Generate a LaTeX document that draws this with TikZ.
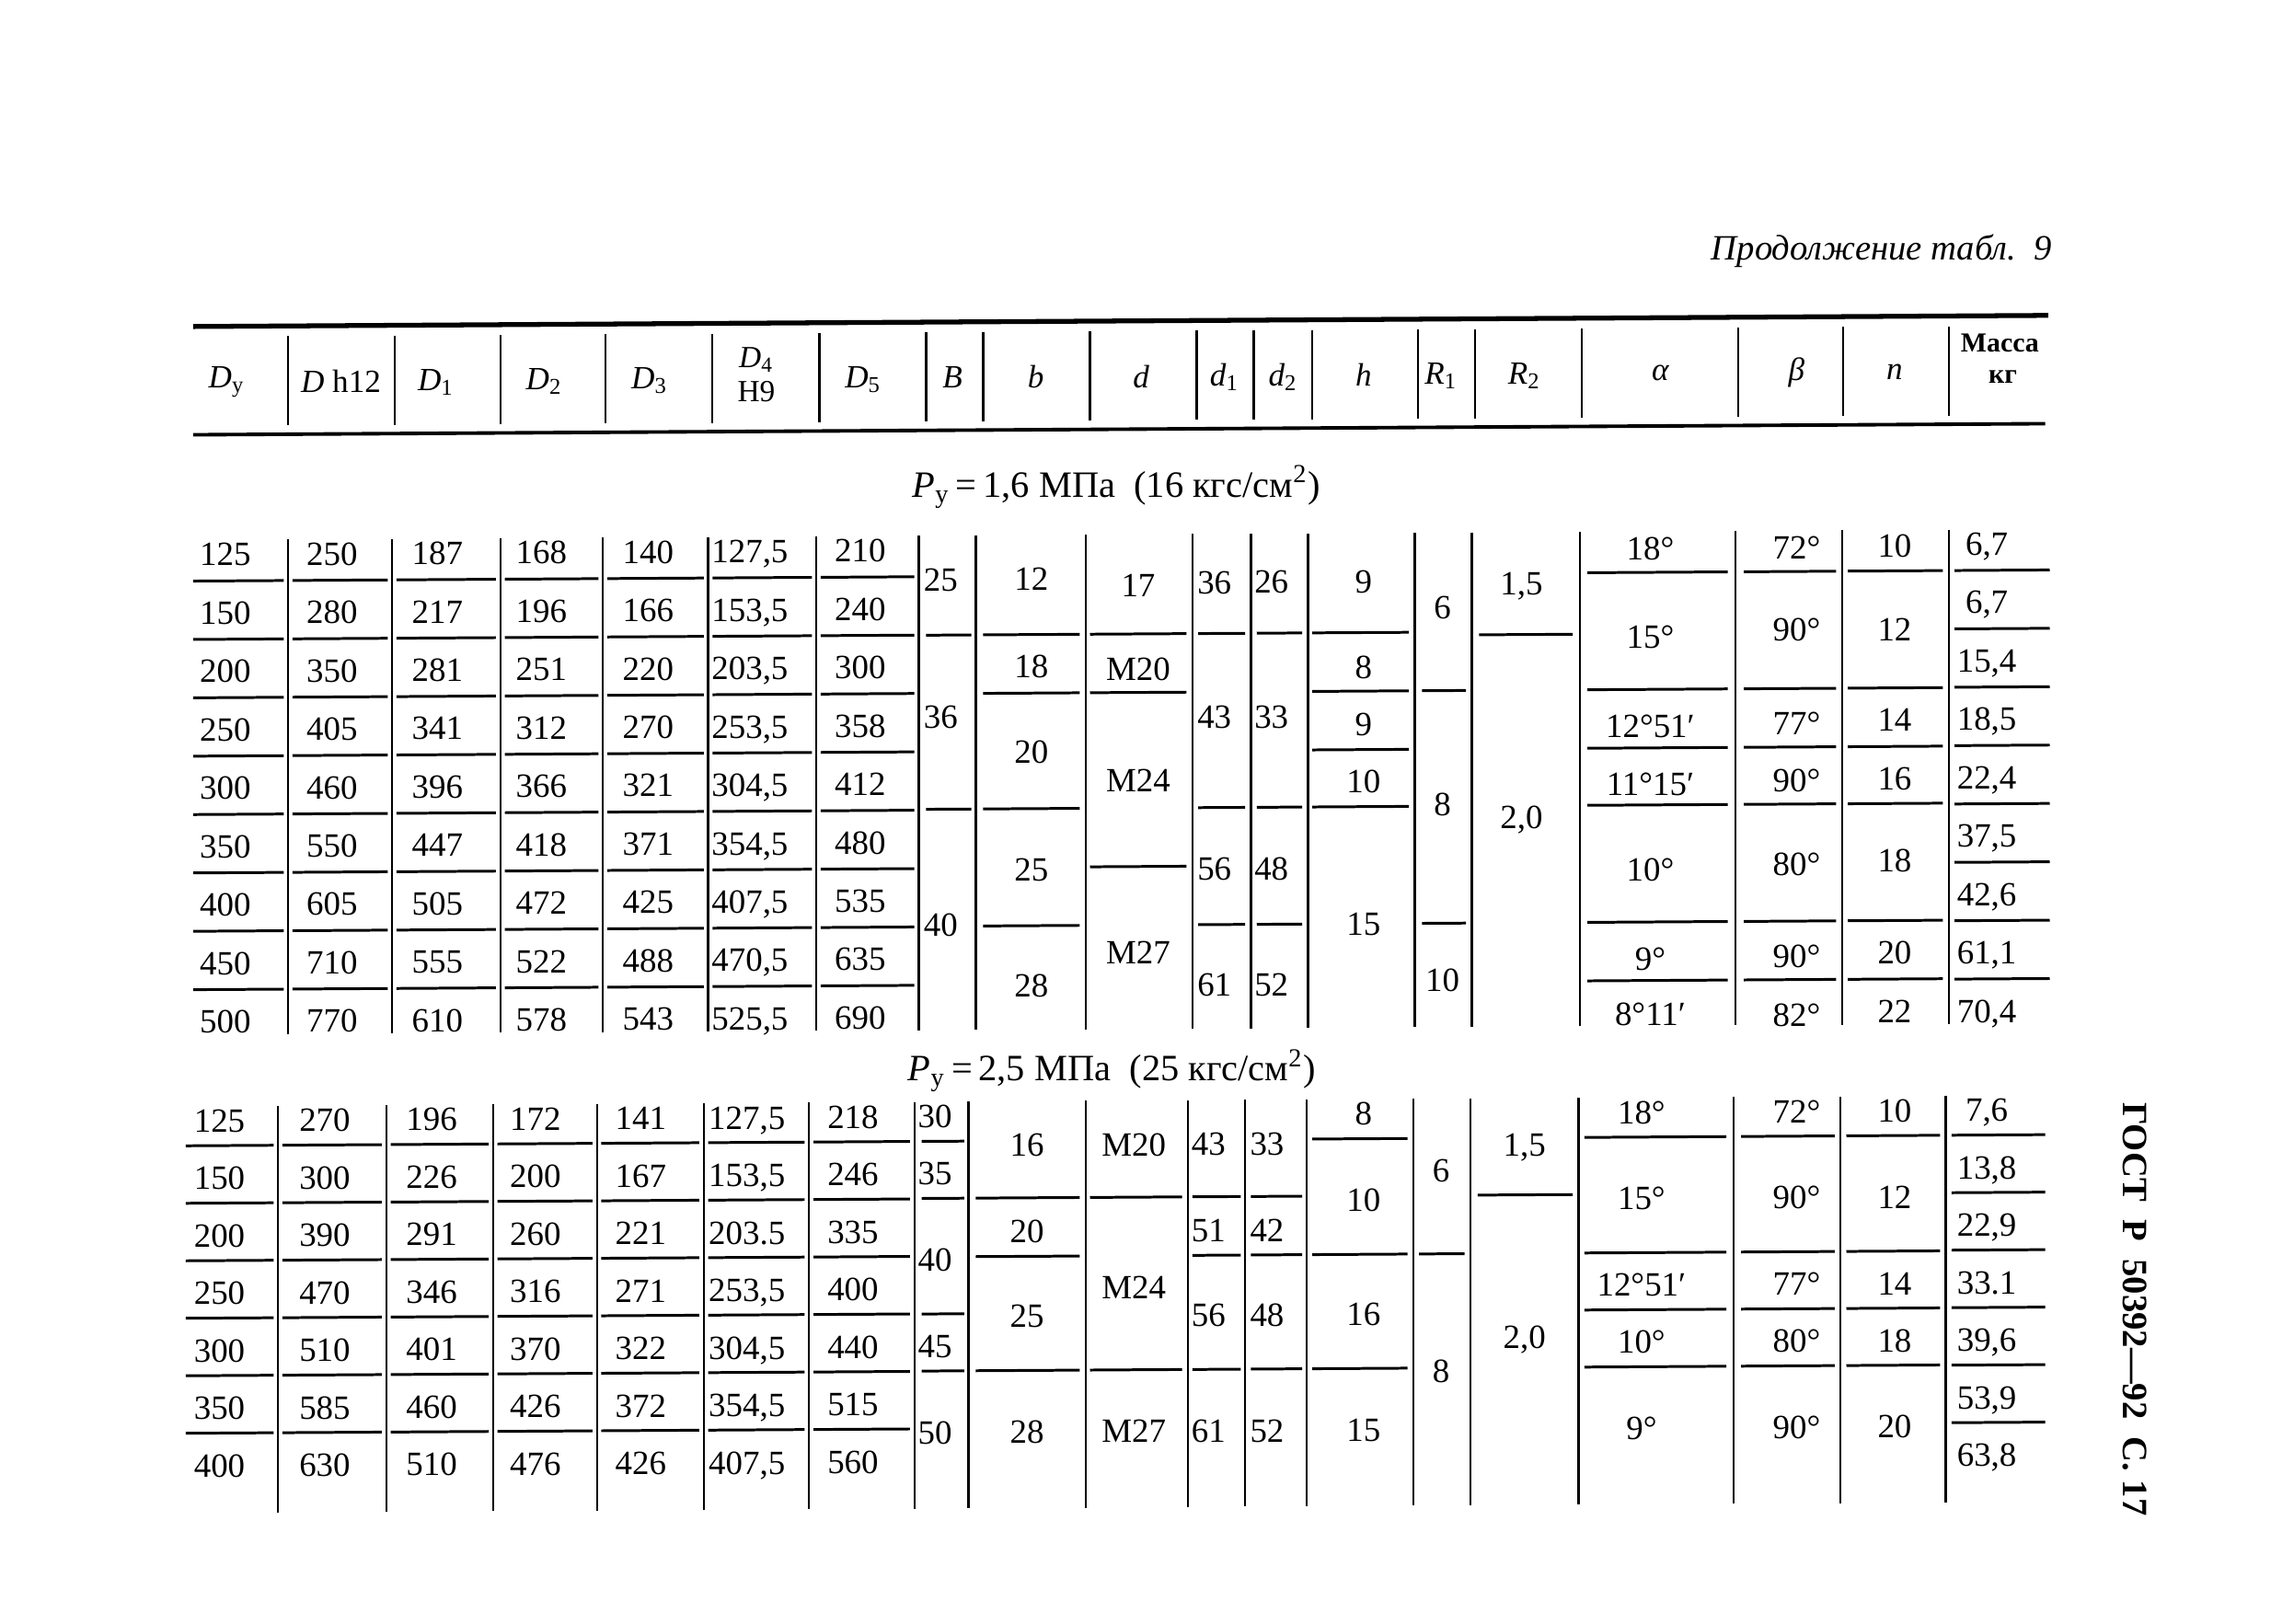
\documentclass[tikz,border=0pt]{standalone}
\usepackage{fontspec}
\setmainfont{Liberation Serif}
\tikzset{
 cell/.style={inner sep=0pt, text height=7pt, text depth=0pt, font=\fontsize{10.5}{12}\selectfont},
 cellw/.style={cell, anchor=west},
 hdr/.style={inner sep=0pt, font=\fontsize{10}{12}\selectfont},
 vl/.style={line width=0.65pt},
 ul/.style={line width=0.85pt},
}
\newcommand{\colA}[6]{\foreach \v [count=\i] in {#6} {\node[#3] (#1\i) at (#2, {#4+#5*(\i-1)}) {\v};}}
\begin{document}
\begin{tikzpicture}[x=0.15899mm, y=-0.15899mm]
\fill[white] (0,0) rectangle (1568,1110);
\useasboundingbox (0,0) rectangle (1568,1110);

\node[anchor=base east, inner sep=0pt, font=\itshape\fontsize{11}{13}\selectfont] (title) at (1403,178) {Продолжение табл.~~9};
\node[inner sep=0pt, font=\fontsize{11.5}{13}\selectfont] (t1) at (763,333) {\textit{P}\textsubscript{у}\,=\,1,6 МПа\ \ (16 кгс/см\textsuperscript{2})};
\node[inner sep=0pt, font=\fontsize{11.5}{13}\selectfont] (t2) at (760,732) {\textit{P}\textsubscript{у}\,=\,2,5 МПа\ \ (25 кгс/см\textsuperscript{2})};
\node[inner sep=0pt, rotate=-90, font=\bfseries\fontsize{11}{13}\selectfont] (gost) at (1459,895) {ГОСТ\ \ Р\ \ 50392—92\ \ С. 17};

\begin{scope}[cm={1,0.006,0,1,(0,0)}]
% header
\draw[line width=1.5pt] (132,224) -- (1400,224);
\draw[line width=1.1pt] (132,298) -- (1398,298);
\foreach \x in {197,270,342,414,487,560,633,672,745,818,857,897,969,1008,1081,1188,1260,1332} \draw[vl] (\x,231) -- (\x,292);
\node[hdr] (hDy) at (155,262) {\textit{D}\textsubscript{у}};
\node[hdr] (hDh) at (233,262) {\textit{D} h12};
\node[hdr] (hD1) at (298,263) {\textit{D}\textsubscript{1}};
\node[hdr] (hD2) at (372,263) {\textit{D}\textsubscript{2}};
\node[hdr] (hD3) at (444,263) {\textit{D}\textsubscript{3}};
\node[hdr, font=\fontsize{9.5}{11}\selectfont] (hD4a) at (517,249) {\textit{D}\textsubscript{4}};
\node[hdr, font=\fontsize{9.5}{11}\selectfont] (hD4b) at (517,271) {H9};
\node[hdr] (hD5) at (590,263) {\textit{D}\textsubscript{5}};
\node[hdr] (hB) at (651,262) {\textit{B}};
\node[hdr] (hb) at (708,262) {\textit{b}};
\node[hdr] (hd) at (780,262) {\textit{d}};
\node[hdr] (hd1) at (837,263) {\textit{d}\textsubscript{1}};
\node[hdr] (hd2) at (877,263) {\textit{d}\textsubscript{2}};
\node[hdr] (hh) at (932,262) {\textit{h}};
\node[hdr] (hR1) at (985,263) {\textit{R}\textsubscript{1}};
\node[hdr] (hR2) at (1042,263) {\textit{R}\textsubscript{2}};
\node[hdr] (ha) at (1135,262) {\textit{α}};
\node[hdr] (hbeta) at (1228,262) {\textit{β}};
\node[hdr] (hn) at (1295,262) {\textit{n}};
\node[hdr, font=\bfseries\fontsize{8.5}{10}\selectfont] (hm1) at (1367,243) {Масса};
\node[hdr, font=\bfseries\fontsize{8.5}{10}\selectfont] (hm2) at (1369,266) {кг};

% ===== section 1 =====
\foreach \x in {197,268,342,412,484,558,628,667,742,815,855,894,967,1006,1080,1186,1259,1332} \draw[vl] (\x,370) -- (\x,708);
\colA{a}{154}{cell}{380}{39.9}{125,150,200,250,300,350,400,450,500}
\colA{b}{227}{cell}{380}{39.9}{250,280,350,405,460,550,605,710,770}
\colA{c}{299}{cell}{380}{39.9}{187,217,281,341,396,447,505,555,610}
\colA{e}{370}{cell}{380}{39.9}{168,196,251,312,366,418,472,522,578}
\colA{f}{443}{cell}{380}{39.9}{140,166,220,270,321,371,425,488,543}
\colA{g}{486}{cellw}{380}{39.9}{{127,5},{153,5},{203,5},{253,5},{304,5},{354,5},{407,5},{470,5},{525,5}}
\colA{k}{588}{cell}{380}{39.9}{210,240,300,358,412,480,535,635,690}
\foreach \a/\b in {132/194,200/265,271/339,345/409,415/481,487/555,561/625}
  \foreach \i in {0,...,7} \draw[ul] (\a,{398+39.9*\i}) -- (\b,{398+39.9*\i});
% B
\node[cellw] (B1) at (631,400) {25};
\node[cellw] (B2) at (631,494) {36};
\node[cellw] (B3) at (631,636) {40};
\foreach \y in {438,557} \draw[ul] (633,\y) -- (664,\y);
% b
\node[cell] (bb1) at (705,400) {12};
\node[cell] (bb2) at (705,460) {18};
\node[cell] (bb3) at (705,518) {20};
\node[cell] (bb4) at (705,599) {25};
\node[cell] (bb5) at (705,678) {28};
\foreach \y in {438,478,557,637} \draw[ul] (672,\y) -- (738,\y);
% d
\node[cell] (dd1) at (778,405) {17};
\node[cell] (dd2) at (778,462) {M20};
\node[cell] (dd3) at (778,538) {M24};
\node[cell] (dd4) at (778,656) {M27};
\foreach \y in {438,478,597} \draw[ul] (745,\y) -- (811,\y);
% d1
\node[cellw] (da1) at (818,403) {36};
\node[cellw] (da2) at (818,495) {43};
\node[cellw] (da3) at (818,599) {56};
\node[cellw] (da4) at (818,678) {61};
\foreach \y in {438,557,637} \draw[ul] (819,\y) -- (851,\y);
% d2
\node[cellw] (db1) at (857,403) {26};
\node[cellw] (db2) at (857,495) {33};
\node[cellw] (db3) at (857,599) {48};
\node[cellw] (db4) at (857,678) {52};
\foreach \y in {438,557,637} \draw[ul] (859,\y) -- (890,\y);
% h
\node[cell] (hh1) at (932,403) {9};
\node[cell] (hh2) at (932,462) {8};
\node[cell] (hh3) at (932,501) {9};
\node[cell] (hh4) at (932,540) {10};
\node[cell] (hh5) at (932,637) {15};
\foreach \y in {438,478,518,557} \draw[ul] (897,\y) -- (963,\y);
% R1
\node[cell] (ra1) at (986,421) {6};
\node[cell] (ra2) at (986,556) {8};
\node[cell] (ra3) at (986,676) {10};
\foreach \y in {478,637} \draw[ul] (972,\y) -- (1002,\y);
% R2
\node[cell] (rb1) at (1040,405) {1,5};
\node[cell] (rb2) at (1040,565) {2,0};
\draw[ul] (1011,440) -- (1075,440);
% alpha
\node[cell] (al1) at (1128,382) {18°};
\node[cell] (al2) at (1128,442) {15°};
\node[cell] (al3) at (1128,503) {12°51′};
\node[cell] (al4) at (1128,543) {11°15′};
\node[cell] (al5) at (1128,601) {10°};
\node[cell] (al6) at (1128,662) {9°};
\node[cell] (al7) at (1128,700) {8°11′};
\foreach \y in {398,478,518,557,637,677} \draw[ul] (1085,\y) -- (1181,\y);
% beta
\node[cell] (be1) at (1228,382) {72°};
\node[cell] (be2) at (1228,438) {90°};
\node[cell] (be3) at (1228,502) {77°};
\node[cell] (be4) at (1228,541) {90°};
\node[cell] (be5) at (1228,598) {80°};
\node[cell] (be6) at (1228,661) {90°};
\node[cell] (be7) at (1228,701) {82°};
\foreach \y in {398,478,518,557,637,677} \draw[ul] (1192,\y) -- (1255,\y);
% n
\node[cell] (nn1) at (1295,381) {10};
\node[cell] (nn2) at (1295,438) {12};
\node[cell] (nn3) at (1295,500) {14};
\node[cell] (nn4) at (1295,540) {16};
\node[cell] (nn5) at (1295,596) {18};
\node[cell] (nn6) at (1295,659) {20};
\node[cell] (nn7) at (1295,699) {22};
\foreach \y in {398,478,518,557,637,677} \draw[ul] (1263,\y) -- (1328,\y);
% mass
\colA{m}{1358}{cell}{380}{39.9}{{6,7},{6,7},{15,4},{18,5},{22,4},{37,5},{42,6},{61,1},{70,4}}
\foreach \i in {0,...,7} \draw[ul] (1336,{398+39.9*\i}) -- (1401,{398+39.9*\i});

% ===== section 2 =====
\foreach \x in {190,264,337,408,481,553,625,662,742,812,851,893,966,1005,1079,1185,1258,1330} \draw[vl] (\x,757) -- (\x,1035);
\colA{sa}{150}{cell}{767}{39.3}{125,150,200,250,300,350,400}
\colA{sb}{222}{cell}{767}{39.3}{270,300,390,470,510,585,630}
\colA{sc}{295}{cell}{767}{39.3}{196,226,291,346,401,460,510}
\colA{se}{366}{cell}{767}{39.3}{172,200,260,316,370,426,476}
\colA{sf}{438}{cell}{767}{39.3}{141,167,221,271,322,372,426}
\colA{sg}{484}{cellw}{767}{39.3}{{127,5},{153,5},{203.5},{253,5},{304,5},{354,5},{407,5}}
\colA{sk}{583}{cell}{767}{39.3}{218,246,335,400,440,515,560}
\foreach \a/\b in {127/187,193/261,267/334,340/405,411/478,484/550,556/622}
  \foreach \i in {0,...,5} \draw[ul] (\a,{784+39.3*\i}) -- (\b,{784+39.3*\i});
% B
\node[cellw] (sB1) at (627,767) {30};
\node[cellw] (sB2) at (627,806) {35};
\node[cellw] (sB3) at (627,865) {40};
\node[cellw] (sB4) at (627,924) {45};
\node[cellw] (sB5) at (627,983) {50};
\foreach \y in {784,823,902,941} \draw[ul] (630,\y) -- (659,\y);
% b
\node[cell] (sbb1) at (702,787) {16};
\node[cell] (sbb2) at (702,846) {20};
\node[cell] (sbb3) at (702,904) {25};
\node[cell] (sbb4) at (702,983) {28};
\foreach \y in {823,863,941} \draw[ul] (667,\y) -- (738,\y);
% d
\node[cell] (sdd1) at (775,787) {M20};
\node[cell] (sdd2) at (775,885) {M24};
\node[cell] (sdd3) at (775,983) {M27};
\foreach \y in {823,941} \draw[ul] (745,\y) -- (808,\y);
% d1
\node[cellw] (sda1) at (814,787) {43};
\node[cellw] (sda2) at (814,846) {51};
\node[cellw] (sda3) at (814,904) {56};
\node[cellw] (sda4) at (814,983) {61};
\foreach \y in {823,863,941} \draw[ul] (815,\y) -- (848,\y);
% d2
\node[cellw] (sdb1) at (854,787) {33};
\node[cellw] (sdb2) at (854,846) {42};
\node[cellw] (sdb3) at (854,904) {48};
\node[cellw] (sdb4) at (854,983) {52};
\foreach \y in {823,863,941} \draw[ul] (855,\y) -- (890,\y);
% h
\node[cell] (shh1) at (932,767) {8};
\node[cell] (shh2) at (932,826) {10};
\node[cell] (shh3) at (932,904) {16};
\node[cell] (shh4) at (932,983) {15};
\foreach \y in {784,863,941} \draw[ul] (897,\y) -- (962,\y);
% R1
\node[cell] (sra1) at (985,806) {6};
\node[cell] (sra2) at (985,943) {8};
\draw[ul] (970,863) -- (1001,863);
% R2
\node[cell] (srb1) at (1042,789) {1,5};
\node[cell] (srb2) at (1042,920) {2,0};
\draw[ul] (1010,823) -- (1075,823);
% alpha
\node[cell] (sal1) at (1122,767) {18°};
\node[cell] (sal2) at (1122,826) {15°};
\node[cell] (sal3) at (1122,885) {12°51′};
\node[cell] (sal4) at (1122,924) {10°};
\node[cell] (sal5) at (1122,983) {9°};
\foreach \y in {784,863,902,941} \draw[ul] (1083,\y) -- (1180,\y);
% beta
\node[cell] (sbe1) at (1228,767) {72°};
\node[cell] (sbe2) at (1228,826) {90°};
\node[cell] (sbe3) at (1228,885) {77°};
\node[cell] (sbe4) at (1228,924) {80°};
\node[cell] (sbe5) at (1228,983) {90°};
\foreach \y in {784,863,902,941} \draw[ul] (1190,\y) -- (1254,\y);
% n
\node[cell] (snn1) at (1295,767) {10};
\node[cell] (snn2) at (1295,826) {12};
\node[cell] (snn3) at (1295,885) {14};
\node[cell] (snn4) at (1295,924) {18};
\node[cell] (snn5) at (1295,983) {20};
\foreach \y in {784,863,902,941} \draw[ul] (1262,\y) -- (1326,\y);
% mass
\colA{sm}{1358}{cell}{767}{39.3}{{7,6},{13,8},{22,9},{33.1},{39,6},{53,9},{63,8}}
\foreach \i in {0,...,5} \draw[ul] (1334,{784+39.3*\i}) -- (1398,{784+39.3*\i});
\end{scope}
\end{tikzpicture}
\end{document}
